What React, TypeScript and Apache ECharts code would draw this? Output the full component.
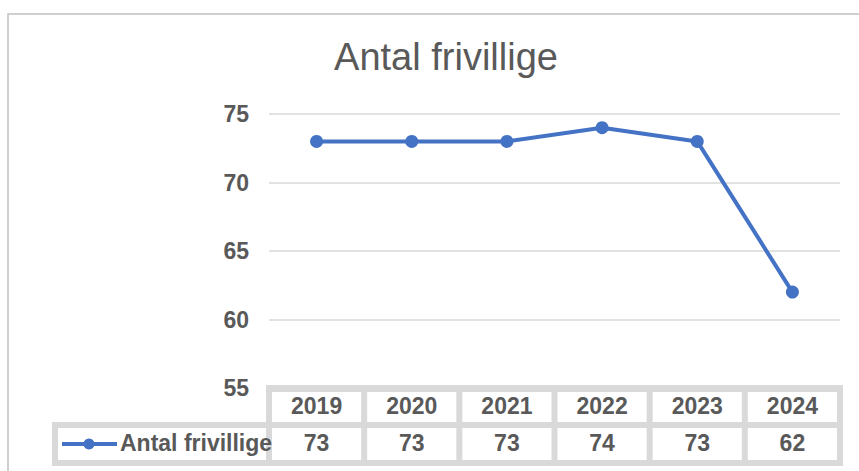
import React, { useEffect, useRef } from "react";
import * as echarts from "echarts";

const title = "Antal frivillige";
const seriesName = "Antal frivillige";
const categories = ["2019", "2020", "2021", "2022", "2023", "2024"];
const values = [73, 73, 73, 74, 73, 62];
const yMin = 55;
const yMax = 75;
const yInterval = 5;

const BLUE = "#4472C4";
const TEXT = "#595959";
const TABLE_LINE = "#d9d9d9";
const FONT = "'Liberation Sans', Arial, Helvetica, sans-serif";

export default function App() {
  const ref = useRef<HTMLDivElement>(null);

  useEffect(() => {
    if (!ref.current) return;
    const chart = echarts.init(ref.current, undefined, { renderer: "svg" });

    const base: any = {
      animation: false,
      backgroundColor: "#ffffff",
      textStyle: { fontFamily: FONT },
      grid: { left: 269, right: 19, top: 114, bottom: 83, containLabel: false },
      xAxis: {
        type: "category",
        data: categories,
        boundaryGap: true,
        axisLine: { show: false },
        axisTick: { show: false },
        axisLabel: { show: false },
      },
      yAxis: {
        type: "value",
        min: yMin,
        max: yMax,
        interval: yInterval,
        axisLine: { show: false },
        axisTick: { show: false },
        axisLabel: { fontSize: 23, fontWeight: "bold", color: TEXT, margin: 20, fontFamily: FONT },
        splitLine: { lineStyle: { color: "#d9d9d9", width: 1.5 } },
      },
      series: [
        {
          name: seriesName,
          type: "line",
          data: values,
          symbol: "circle",
          symbolSize: 13,
          lineStyle: { color: BLUE, width: 4 },
          itemStyle: { color: BLUE },
          z: 3,
        },
      ],
    };
    chart.setOption(base);

    const centers = categories.map((c) => chart.convertToPixel({ xAxisIndex: 0 }, c) as number);
    const step = centers.length > 1 ? centers[1] - centers[0] : 95;
    const bounds = centers.map((c) => c - step / 2);
    bounds.push(centers[centers.length - 1] + step / 2);
    const y0 = chart.convertToPixel({ yAxisIndex: 0 }, yMin) as number;

    const t = 6; // band thickness
    const r1Top = y0 - 3;
    const r1Bot = r1Top + 43;
    const r2Top = r1Bot - t;
    const r2Bot = r2Top + 44;
    const left2 = 52;
    const right = bounds[bounds.length - 1] + 3;
    const cellFont = `bold 23px ${FONT}`;

    const els: any[] = [];
    els.push({
      type: "rect",
      shape: { x: 8, y: 14, width: 900, height: 500 },
      style: { fill: "none", stroke: "#c0c0c0", lineWidth: 1.5 },
      z: 0,
    });
    els.push({
      type: "text",
      x: 446,
      y: 57,
      style: {
        text: title,
        fill: TEXT,
        font: `normal 38px ${FONT}`,
        align: "center",
        verticalAlign: "middle",
      },
      z: 5,
    });
    els.push({
      type: "rect",
      shape: { x: bounds[0] - 3, y: r1Top, width: right - (bounds[0] - 3), height: r1Bot - r1Top },
      style: { fill: TABLE_LINE },
      z: 10,
    });
    els.push({
      type: "rect",
      shape: { x: left2, y: r2Top, width: right - left2, height: r2Bot - r2Top },
      style: { fill: TABLE_LINE },
      z: 10,
    });
    for (let i = 0; i < categories.length; i++) {
      const x1 = bounds[i] + 3;
      const x2 = bounds[i + 1] - 3;
      els.push({
        type: "rect",
        shape: { x: x1, y: r1Top + t + 1, width: x2 - x1, height: r1Bot - t - (r1Top + t + 1) },
        style: { fill: "#ffffff" },
        z: 11,
      });
      els.push({
        type: "rect",
        shape: { x: x1, y: r2Top + t, width: x2 - x1, height: r2Bot - t - (r2Top + t) },
        style: { fill: "#ffffff" },
        z: 11,
      });
      els.push({
        type: "text",
        x: centers[i],
        y: (r1Top + t + 1 + r1Bot - t) / 2 - 1,
        style: {
          text: categories[i],
          fill: TEXT,
          font: cellFont,
          align: "center",
          verticalAlign: "middle",
        },
        z: 12,
      });
      els.push({
        type: "text",
        x: centers[i],
        y: (r2Top + t + r2Bot - t) / 2 - 1,
        style: {
          text: String(values[i]),
          fill: TEXT,
          font: cellFont,
          align: "center",
          verticalAlign: "middle",
        },
        z: 12,
      });
    }
    els.push({
      type: "rect",
      shape: { x: left2 + t, y: r2Top + t, width: bounds[0] - 3 - (left2 + t), height: r2Bot - t - (r2Top + t) },
      style: { fill: "#ffffff" },
      z: 11,
    });
    const ly = (r2Top + t + r2Bot - t) / 2;
    els.push({
      type: "line",
      shape: { x1: 62, y1: ly, x2: 117, y2: ly },
      style: { stroke: BLUE, lineWidth: 4 },
      z: 12,
    });
    els.push({
      type: "circle",
      shape: { cx: 89, cy: ly, r: 5.5 },
      style: { fill: BLUE },
      z: 12,
    });
    els.push({
      type: "text",
      x: 120,
      y: ly - 1,
      style: {
        text: seriesName,
        fill: TEXT,
        font: cellFont,
        align: "left",
        verticalAlign: "middle",
      },
      z: 13,
    });

    chart.setOption({ graphic: { elements: els } });

    return () => chart.dispose();
  }, []);

  return (
    <div
      ref={ref}
      style={{ position: "fixed", left: 0, top: 0, width: 859, height: 471 }}
    />
  );
}
